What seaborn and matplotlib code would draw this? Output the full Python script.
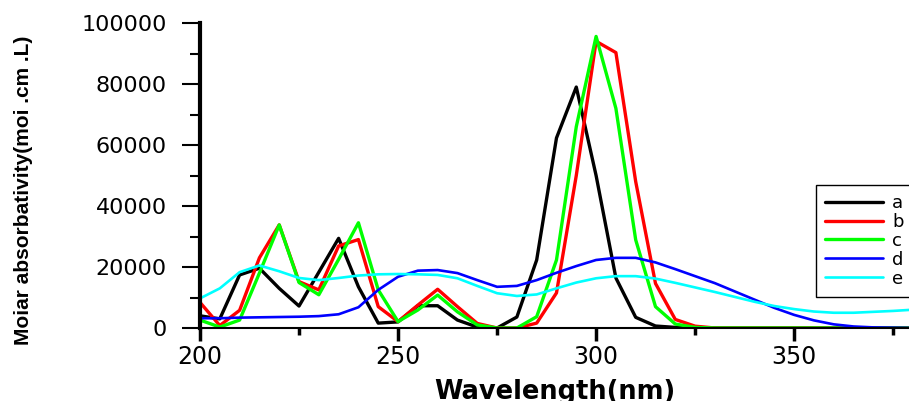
import numpy as np
import pandas as pd
import matplotlib
matplotlib.use("Agg")
import matplotlib.pyplot as plt
from matplotlib.ticker import MultipleLocator
import seaborn as sns

wavelength = [200, 205, 210, 215, 220, 225, 230, 235, 240, 245, 250, 255, 260,
              265, 270, 275, 280, 285, 290, 295, 300, 305, 310, 315, 320, 325,
              330, 335, 340, 345, 350, 355, 360, 365, 370, 375, 380]

a_vals = [4000, 3000, 17400, 19600, 13000, 7200, 18300, 29400, 13500, 1600, 2000,
          7300, 7300, 2600, 300, 0, 3600, 22300, 62300, 79000, 50000, 16400, 3500,
          650, 200, 100, 0, 0, 0, 0, 0, 0, 0, 0, 0, 0, 0]
b_vals = [8400, 800, 5800, 23000, 33800, 15200, 12500, 26900, 29000, 7000, 2100,
          7500, 12700, 7000, 1500, 0, 0, 1600, 11500, 50000, 94000, 90300, 48000,
          14600, 2800, 600, 0, 0, 0, 0, 0, 0, 0, 0, 0, 0, 0]
c_vals = [2600, 300, 2600, 18000, 33800, 14900, 10900, 22500, 34500, 12500, 2100,
          5900, 10800, 5300, 1000, 0, 0, 3700, 22300, 66000, 95600, 72000, 28900,
          7000, 1300, 200, 0, 0, 0, 0, 0, 0, 0, 0, 0, 0, 0]
d_vals = [3200, 3200, 3400, 3500, 3600, 3700, 3900, 4500, 6800, 12500, 16800,
          18800, 19000, 18000, 15700, 13500, 13800, 15700, 18100, 20300, 22300,
          23000, 23000, 21500, 19300, 17000, 14700, 12000, 9300, 6600, 4300, 2500,
          1200, 500, 200, 100, 0]
e_vals = [9700, 13000, 18300, 20500, 18600, 16400, 15700, 16400, 17200, 17600,
          17700, 17600, 17400, 16300, 13800, 11400, 10500, 11000, 13000, 14900,
          16300, 17000, 17000, 16200, 14800, 13300, 11800, 10200, 8600, 7200, 6200,
          5400, 5000, 5000, 5300, 5600, 6000]

series_names = ["a", "b", "c", "d", "e"]
series_vals = [a_vals, b_vals, c_vals, d_vals, e_vals]
colors = ["#000000", "#FF0000", "#00FF00", "#0000FF", "#00FFFF"]
widths = [2.4, 2.4, 2.4, 1.9, 1.9]

sns.set_style("ticks", {"axes.edgecolor": "black", "text.color": "black",
                        "xtick.color": "black", "ytick.color": "black",
                        "axes.labelcolor": "black"})
plt.rcParams["font.family"] = ["DejaVu Sans"]

fig = plt.figure(figsize=(9.09, 4.01), dpi=100)
ax = fig.add_axes([200 / 909, 1 - 328 / 401, 709 / 909, 305 / 401])

for name, vals, col, lw in zip(series_names, series_vals, colors, widths):
    df = pd.DataFrame({"wl": wavelength, "val": vals})
    sns.lineplot(data=df, x="wl", y="val", color=col, linewidth=lw, label=name,
                 ax=ax)

ax.set_xlim(200, 379)
ax.set_ylim(0, 100000)
ax.xaxis.set_major_locator(MultipleLocator(50))
ax.xaxis.set_minor_locator(MultipleLocator(25))
ax.yaxis.set_major_locator(MultipleLocator(20000))
ax.yaxis.set_minor_locator(MultipleLocator(10000))

sns.despine(ax=ax)
ax.spines["left"].set_linewidth(3)
ax.spines["bottom"].set_linewidth(1.5)

ax.tick_params(axis="y", which="major", direction="out", length=13, width=1.5,
               labelsize=16, pad=11, colors="black")
ax.tick_params(axis="y", which="minor", direction="out", length=7, width=1.5,
               colors="black")
ax.tick_params(axis="x", which="major", direction="out", length=9, width=2.5,
               labelsize=17, pad=3, colors="black")
ax.tick_params(axis="x", which="minor", direction="out", length=5, width=2.5,
               colors="black")

ax.set_xlabel("Wavelength(nm)", fontsize=18.5, fontweight="bold", color="black")
ax.xaxis.set_label_coords(0.5, -0.168)
ax.set_ylabel("Moiar absorbativity(moi .cm .L)", fontsize=15, fontweight="bold",
              family=["Liberation Sans", "DejaVu Sans"], color="black")
ax.yaxis.set_label_coords(-0.236, 0.452)

leg = ax.legend(loc="upper left", bbox_to_anchor=(0.869, 0.469), fontsize=13,
                frameon=True, fancybox=False, framealpha=1, edgecolor="black",
                handlelength=3.2, handletextpad=0.5, labelspacing=0.05,
                borderpad=0.5, borderaxespad=0)
leg.get_frame().set_linewidth(1.0)

fig.savefig("out.png", dpi=100)
